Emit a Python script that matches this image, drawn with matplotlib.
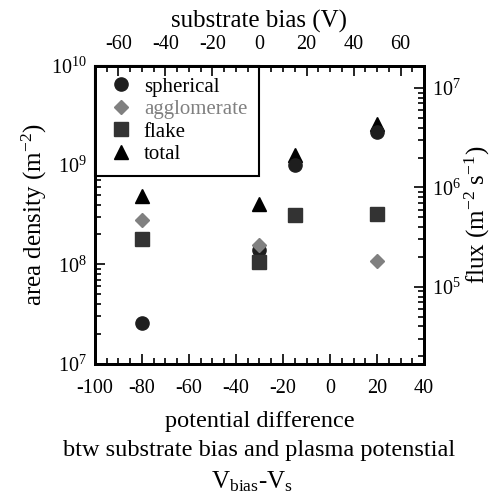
import numpy as np
import matplotlib
matplotlib.use("Agg")
import matplotlib.pyplot as plt
from matplotlib.ticker import MultipleLocator, LogLocator, NullFormatter

plt.rcParams['font.family'] = ['Liberation Serif', 'DejaVu Serif']
plt.rcParams['mathtext.fontset'] = 'custom'
plt.rcParams['mathtext.rm'] = 'Liberation Serif'
plt.rcParams['mathtext.it'] = 'Liberation Serif:italic'
plt.rcParams['mathtext.bf'] = 'Liberation Serif:bold'
plt.rcParams['axes.unicode_minus'] = False

# data
potential_diff = [-80, -30, -15, 20]
spherical = [2.55e7, 1.41e8, 1.01e9, 2.13e9]
agglomerate = [2.82e8, 1.58e8, np.nan, 1.07e8]
flake = [1.80e8, 1.05e8, 3.11e8, 3.22e8]
total = [4.84e8, 4.06e8, 1.27e9, 2.59e9]

plasma_potential = 30          # substrate bias = potential diff + plasma potential
flux_factor = 10 ** (-2.774)   # flux axis relative to area density axis

fig = plt.figure(figsize=(4.99, 4.97), dpi=100)
ax = fig.add_axes([0.190, 0.268, 0.660, 0.600])

ax.plot(potential_diff, spherical, 'o', color='#1e1e1e', ms=9.5, label='spherical', zorder=3)
ax.plot(potential_diff, agglomerate, 'D', color='#808080', ms=7.5, label='agglomerate', zorder=4)
ax.plot(potential_diff, flake, 's', color='#333333', ms=9.5, label='flake', zorder=3)
ax.plot(potential_diff, total, '^', color='black', ms=9.5, label='total', zorder=2)

ax.set_yscale('log')
ax.set_xlim(-100, 40)
ax.set_ylim(1e7, 1e10)
ax.xaxis.set_major_locator(MultipleLocator(20))
ax.xaxis.set_minor_locator(MultipleLocator(5))
ax.yaxis.set_major_locator(LogLocator(base=10, numticks=10))
ax.yaxis.set_minor_locator(LogLocator(base=10, subs=np.arange(2, 10), numticks=20))
ax.yaxis.set_minor_formatter(NullFormatter())

lw = 2.0
for s in ax.spines.values():
    s.set_linewidth(lw)

ax.tick_params(which='both', direction='in', top=False, right=False, width=1.2, labelsize=14.5)
ax.tick_params(which='major', length=7)
ax.tick_params(which='minor', length=4)
ax.tick_params(axis='x', pad=11)
ax.tick_params(axis='y', pad=6)

ax.set_ylabel('area density (m$^{-2}$)', fontsize=18, labelpad=1)
ax.set_xlabel('potential difference\nbtw substrate bias and plasma potenstial',
              fontsize=17.5, linespacing=1.55, labelpad=9)
fig.text(0.505, 0.030, r'V$_{\mathrm{bias}}$-V$_{\mathrm{s}}$', fontsize=18, ha='center', va='center')

# right axis: flux
ax2 = ax.twinx()
ax2.set_yscale('log')
ax2.set_ylim(1e7 * flux_factor, 1e10 * flux_factor)
ax2.yaxis.set_major_locator(LogLocator(base=10, numticks=10))
ax2.yaxis.set_minor_locator(LogLocator(base=10, subs=np.arange(2, 10), numticks=20))
ax2.yaxis.set_minor_formatter(NullFormatter())
ax2.tick_params(which='both', direction='in', width=1.2, labelsize=14.5, pad=6)
ax2.tick_params(which='major', length=7)
ax2.tick_params(which='minor', length=4)
ax2.set_ylabel('flux (m$^{-2}$ s$^{-1}$)', fontsize=18, labelpad=1)
for s in ax2.spines.values():
    s.set_linewidth(lw)

# top axis: substrate bias
ax3 = ax.twiny()
ax3.set_xlim(-100 + plasma_potential, 40 + plasma_potential)
ax3.xaxis.set_major_locator(MultipleLocator(20))
ax3.xaxis.set_minor_locator(MultipleLocator(5))
ax3.tick_params(which='both', direction='in', width=1.2, labelsize=14.5, pad=8)
ax3.tick_params(which='major', length=7)
ax3.tick_params(which='minor', length=4)
ax3.set_xlabel('substrate bias (V)', fontsize=18, labelpad=6)
for s in ax3.spines.values():
    s.set_linewidth(lw)

leg = ax.legend(loc='upper left', bbox_to_anchor=(0.0, 1.0), borderaxespad=0.0,
                fontsize=15, frameon=True, fancybox=False, framealpha=1,
                edgecolor='black', handlelength=1.4, handletextpad=0.4,
                borderpad=0.55, labelspacing=0.14)
leg.get_frame().set_linewidth(1.5)
for t, c in zip(leg.get_texts(), ['black', '#808080', 'black', 'black']):
    t.set_color(c)
leg.set_zorder(10)

fig.savefig('out.png', dpi=100)
